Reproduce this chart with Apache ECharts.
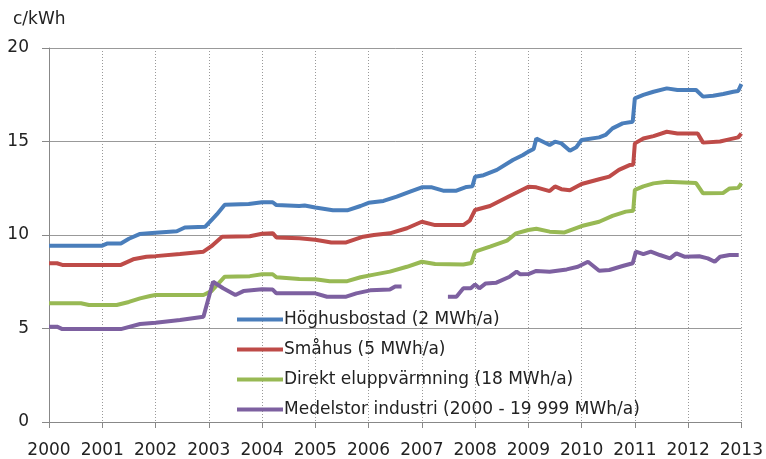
<!DOCTYPE html>
<html>
<head>
<meta charset="utf-8">
<script src="https://cdn.jsdelivr.net/npm/echarts@6/dist/echarts.min.js"></script>
<style>
  html, body { margin: 0; padding: 0; background: #fff; }
  #chart { width: 766px; height: 459px; }
</style>
</head>
<body>
<div id="chart"></div>
<script>
// [år, c/kWh]
const hoghus = [
  [2000, 9.43], [2001.0, 9.43], [2001.1, 9.55], [2001.35, 9.55], [2001.5, 9.8], [2001.7, 10.05],
  [2002, 10.12], [2002.4, 10.2], [2002.55, 10.4], [2002.93, 10.44], [2003.05, 10.8], [2003.15, 11.1],
  [2003.3, 11.62], [2003.75, 11.66], [2004.0, 11.75], [2004.2, 11.75], [2004.27, 11.6], [2004.7, 11.55],
  [2004.8, 11.58], [2005.0, 11.47], [2005.33, 11.32], [2005.6, 11.32], [2005.85, 11.55], [2006, 11.72],
  [2006.28, 11.82], [2006.53, 12.05], [2006.78, 12.32], [2007, 12.55], [2007.19, 12.55], [2007.4, 12.37],
  [2007.65, 12.37], [2007.84, 12.57], [2007.95, 12.6], [2008.0, 13.12], [2008.16, 13.2], [2008.41, 13.48],
  [2008.71, 14.01], [2008.9, 14.28], [2009, 14.46], [2009.1, 14.6], [2009.15, 15.16], [2009.4, 14.81],
  [2009.5, 14.99], [2009.62, 14.9], [2009.78, 14.51], [2009.9, 14.69], [2010, 15.08], [2010.33, 15.22],
  [2010.45, 15.35], [2010.58, 15.7], [2010.77, 15.97], [2010.96, 16.06], [2011, 17.31], [2011.16, 17.49],
  [2011.35, 17.66], [2011.6, 17.84], [2011.8, 17.75], [2012.15, 17.75], [2012.28, 17.4], [2012.47, 17.45],
  [2012.66, 17.54], [2012.85, 17.66], [2012.94, 17.7], [2013, 18.07]
];
const smahus = [
  [2000, 8.49], [2000.15, 8.49], [2000.25, 8.4], [2001.35, 8.4], [2001.58, 8.7], [2001.83, 8.84],
  [2002, 8.87], [2002.46, 8.98], [2002.9, 9.11], [2003.05, 9.4], [2003.25, 9.9], [2003.77, 9.93],
  [2004.0, 10.07], [2004.2, 10.1], [2004.27, 9.87], [2004.7, 9.82], [2005, 9.75], [2005.3, 9.6],
  [2005.58, 9.6], [2005.9, 9.91], [2006.1, 10.0], [2006.4, 10.09], [2006.72, 10.36], [2007, 10.71],
  [2007.25, 10.53], [2007.78, 10.53], [2007.9, 10.77], [2008, 11.34], [2008.28, 11.55], [2008.66, 12.1],
  [2009, 12.58], [2009.15, 12.55], [2009.4, 12.35], [2009.5, 12.6], [2009.62, 12.45], [2009.78, 12.39],
  [2010, 12.73], [2010.33, 12.98], [2010.52, 13.12], [2010.7, 13.48], [2010.9, 13.74], [2010.97, 13.76],
  [2011, 14.9], [2011.16, 15.16], [2011.35, 15.29], [2011.6, 15.52], [2011.8, 15.43], [2012.18, 15.43],
  [2012.28, 14.94], [2012.6, 15.0], [2012.75, 15.1], [2012.94, 15.22], [2013, 15.43]
];
const direkt = [
  [2000, 6.35], [2000.6, 6.35], [2000.75, 6.26], [2001.27, 6.26], [2001.5, 6.42], [2001.71, 6.61],
  [2001.9, 6.74], [2002, 6.79], [2002.9, 6.79], [2003.05, 7.0], [2003.3, 7.77], [2003.77, 7.8],
  [2004, 7.9], [2004.2, 7.9], [2004.27, 7.74], [2004.7, 7.65], [2005, 7.63], [2005.27, 7.53],
  [2005.6, 7.53], [2005.85, 7.74], [2006.1, 7.88], [2006.4, 8.04], [2006.72, 8.3], [2007, 8.57],
  [2007.25, 8.45], [2007.78, 8.42], [2007.93, 8.5], [2008, 9.11], [2008.28, 9.38], [2008.6, 9.7],
  [2008.77, 10.09], [2009, 10.27], [2009.15, 10.33], [2009.4, 10.18], [2009.68, 10.14], [2010, 10.48],
  [2010.33, 10.71], [2010.58, 11.02], [2010.83, 11.25], [2010.97, 11.3], [2011, 12.41], [2011.16, 12.6],
  [2011.35, 12.76], [2011.6, 12.85], [2012.15, 12.78], [2012.28, 12.23], [2012.66, 12.25], [2012.78, 12.49],
  [2012.94, 12.52], [2013, 12.76]
];
const industri = [
  [2000, 5.1], [2000.15, 5.1], [2000.25, 4.97], [2001.35, 4.97], [2001.71, 5.24], [2002, 5.31],
  [2002.46, 5.45], [2002.9, 5.63], [2003.08, 7.5], [2003.27, 7.15], [2003.5, 6.79], [2003.65, 7.0],
  [2004, 7.1], [2004.2, 7.08], [2004.27, 6.88], [2005, 6.88], [2005.22, 6.7], [2005.58, 6.7],
  [2005.77, 6.88], [2006.03, 7.04], [2006.4, 7.08], [2006.5, 7.24], [2006.62, 7.24],
  [2007, null],
  [2007.49, 6.7], [2007.65, 6.7], [2007.78, 7.15], [2007.92, 7.15], [2008, 7.36], [2008.08, 7.15],
  [2008.2, 7.41], [2008.4, 7.45], [2008.65, 7.77], [2008.78, 8.04], [2008.85, 7.9], [2009, 7.91],
  [2009.15, 8.08], [2009.4, 8.04], [2009.72, 8.16], [2009.93, 8.3], [2010.12, 8.57], [2010.33, 8.09],
  [2010.52, 8.13], [2010.77, 8.34], [2010.96, 8.49], [2011.02, 9.11], [2011.16, 8.98], [2011.3, 9.11],
  [2011.47, 8.93], [2011.66, 8.75], [2011.78, 9.02], [2011.93, 8.84], [2012.21, 8.86], [2012.37, 8.75],
  [2012.5, 8.57], [2012.6, 8.84], [2012.78, 8.93], [2012.95, 8.93]
];
const names = [
  'Höghusbostad (2 MWh/a)',
  'Småhus (5 MWh/a)',
  'Direkt eluppvärmning (18 MWh/a)',
  'Medelstor industri (2000 - 19 999 MWh/a)'
];
const colors = ['#4a7ebb', '#be4b48', '#98b954', '#7d60a0'];

const font = 'DejaVu Sans';
let chart = echarts.init(document.getElementById('chart'), null, {renderer: 'canvas'});

let series = [hoghus, smahus, direkt, industri].map((d, i) => ({
  name: names[i],
  type: 'line',
  data: d,
  symbol: 'none',
  connectNulls: false,
  lineStyle: {width: 4, color: colors[i]},
  itemStyle: {color: colors[i]},
  animation: false
}));

chart.setOption({
  animation: false,
  title: {
    text: 'c/kWh', left: 13, top: 11, padding: 0,
    textStyle: {fontFamily: font, fontSize: 17, fontWeight: 'normal', color: '#222'}
  },
  grid: {left: 49, right: 24, top: 48, bottom: 37},
  legend: {
    orient: 'vertical', left: 232, top: 306,
    itemWidth: 46, itemHeight: 4, itemGap: 13,
    icon: 'rect',
    textStyle: {fontFamily: font, fontSize: 17, color: '#222', padding: [0, 0, 0, -4]},
    data: names
  },
  xAxis: {
    type: 'value', min: 2000, max: 2013, interval: 1,
    axisLine: {lineStyle: {color: '#888', width: 1}},
    axisTick: {show: true, length: 6, lineStyle: {color: '#888'}},
    axisLabel: {fontFamily: font, fontSize: 17, color: '#222', margin: 20, formatter: v => String(v)},
    splitLine: {show: true, lineStyle: {color: '#999', type: [1, 2], width: 1}}
  },
  yAxis: {
    type: 'value', min: 0, max: 20, interval: 5,
    axisLine: {show: true, lineStyle: {color: '#888', width: 1}},
    axisTick: {show: true, length: 7, lineStyle: {color: '#888'}},
    axisLabel: {fontFamily: font, fontSize: 17, color: '#222', margin: 20},
    splitLine: {show: true, lineStyle: {color: '#999', width: 1}}
  },
  series: series
});
</script>
</body>
</html>
